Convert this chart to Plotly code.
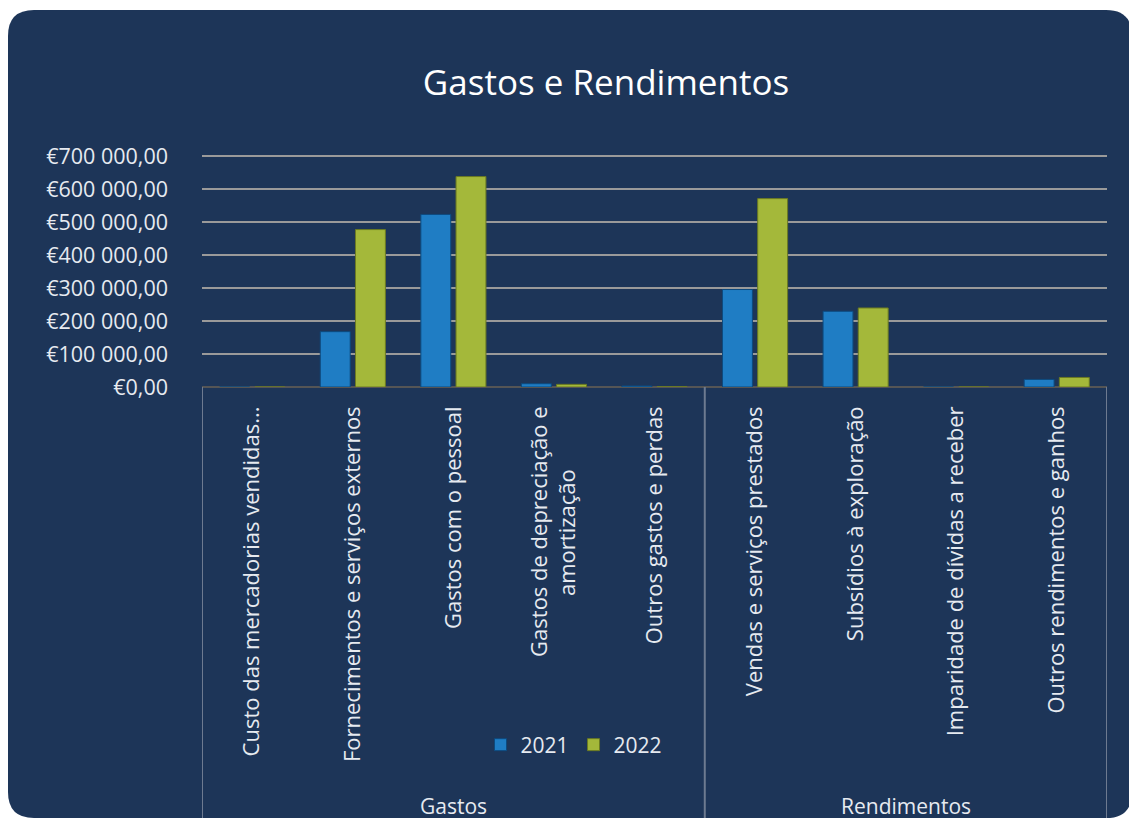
import plotly.graph_objects as go

categories = [
    "Custo das mercadorias vendidas...",
    "Fornecimentos e serviços externos",
    "Gastos com o pessoal",
    "Gastos de depreciação e<br>amortização" + "\u00a0" * 11,
    "Outros gastos e perdas",
    "Vendas e serviços prestados",
    "Subsídios à exploração",
    "Imparidade de dívidas a receber",
    "Outros rendimentos e ganhos",
]
groups = ["Gastos", "Rendimentos"]
group_sizes = [5, 4]
values_2021 = [0, 168000, 524000, 10000, 3000, 296000, 230000, 0, 23000]
values_2022 = [0, 478000, 639000, 8000, 1000, 572000, 240000, 0, 29000]
series_names = ["2021", "2022"]
y_ticks = [0, 100000, 200000, 300000, 400000, 500000, 600000, 700000]


def euro(v):
    s = f"{v:,.2f}"
    whole, dec = s.split(".")
    whole = whole.replace(",", " ")
    return f"€{whole},{dec}"


NAVY = "#1d3558"
TXT = "#e6eaf0"
FONT = "Open Sans, Noto Sans, sans-serif"
W, H = 1129, 811
OFF = 8  # page body margin
PL, PT, PW, PH = 202 - OFF, 140 - OFF, 905.0, 247.0
x_idx = list(range(len(categories)))

fig = go.Figure()
fig.add_trace(go.Bar(
    name=series_names[0], x=x_idx, y=values_2021,
    marker=dict(color="#1f7dc4", line=dict(color="#0d4a7e", width=1)),
))
fig.add_trace(go.Bar(
    name=series_names[1], x=x_idx, y=values_2022,
    marker=dict(color="#a4b83a", line=dict(color="#6b7a22", width=1)),
))


def px_x(px):  # page px -> paper x
    return (px - OFF - PL) / PW


def px_y(py):  # page px -> paper y
    return (PT + PH - (py - OFF)) / PH


x0, x1 = px_x(8), px_x(1132)
y0, y1 = px_y(818), px_y(10)
rx, ry = 26.0 / PW, 26.0 / PH
path = (
    f"M {x0+rx},{y1} L {x1-rx},{y1} Q {x1},{y1} {x1},{y1-ry} "
    f"L {x1},{y0+ry} Q {x1},{y0} {x1-rx},{y0} "
    f"L {x0+rx},{y0} Q {x0},{y0} {x0},{y0+ry} "
    f"L {x0},{y1-ry} Q {x0},{y1} {x0+rx},{y1} Z"
)
shapes = [dict(type="path", path=path, xref="paper", yref="paper",
               fillcolor=NAVY, line=dict(width=0), layer="below")]

bounds = [-0.5]
for g in group_sizes:
    bounds.append(bounds[-1] + g)
for b in bounds:
    shapes.append(dict(type="line", xref="x", yref="paper", x0=b, x1=b,
                       y0=0, y1=px_y(818),
                       line=dict(color="#6d7a90", width=2)))

annotations = []
start = -0.5
for g, n in zip(groups, group_sizes):
    annotations.append(dict(
        x=start + n / 2.0, y=px_y(806), xref="x", yref="paper",
        text=g, showarrow=False, font=dict(color=TXT, size=21, family=FONT),
        xanchor="center", yanchor="middle"))
    start += n

fig.update_layout(
    width=W, height=H,
    margin=dict(l=PL, r=W - PL - int(PW), t=PT, b=H - PT - int(PH)),
    paper_bgcolor="white",
    plot_bgcolor="white",
    title=dict(text="Gastos e Rendimentos", x=(606 - OFF) / W, xanchor="center",
               y=1 - (83 - OFF) / H, yanchor="middle",
               font=dict(color="white", size=35, family=FONT)),
    barmode="group",
    bargap=0.3,
    bargroupgap=0.15,
    showlegend=True,
    legend=dict(orientation="h", x=px_x(574), y=px_y(745),
                xanchor="center", yanchor="middle",
                font=dict(color=TXT, size=21, family=FONT),
                bgcolor="rgba(0,0,0,0)", itemwidth=30, tracegroupgap=0),
    shapes=shapes,
    annotations=annotations,
    font=dict(family=FONT),
)
fig.update_xaxes(
    tickmode="array", tickvals=x_idx, ticktext=categories,
    tickangle=-90, range=[-0.5, len(categories) - 0.5],
    tickfont=dict(color=TXT, size=22, family=FONT),
    showgrid=False, showline=False, ticks="", ticklabelstandoff=14,
)
fig.update_yaxes(
    range=[0, 750000], tickmode="array", tickvals=y_ticks,
    ticktext=[euro(v) for v in y_ticks],
    tickfont=dict(color=TXT, size=21.5, family=FONT),
    showgrid=True, gridcolor="#9a9a9a", gridwidth=1.5,
    zeroline=True, zerolinecolor="#555555", zerolinewidth=2,
    ticklabelstandoff=33, showline=False,
)

fig.write_html("out.html")
